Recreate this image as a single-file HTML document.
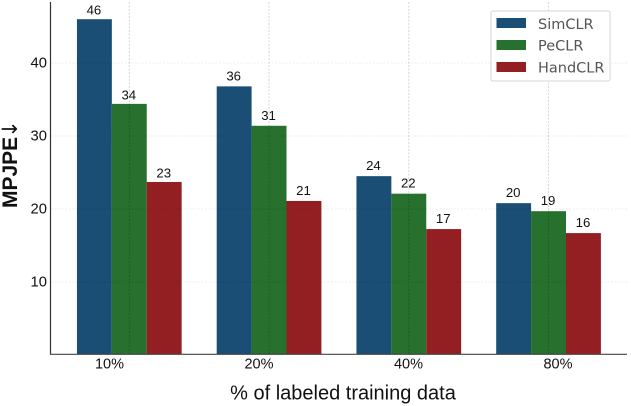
<!DOCTYPE html>
<html>
<head>
<meta charset="utf-8">
<style>
html,body{margin:0;padding:0;background:#fff;}
svg{display:block;filter:blur(0.25px);}
text{font-family:"Liberation Sans",Arial,sans-serif;fill:#111;}
</style>
</head>
<body>
<svg id="chart" width="631" height="406" viewBox="0 0 631 406" xmlns="http://www.w3.org/2000/svg">
  <text transform="translate(17,208) rotate(-90)" font-size="21" font-weight="bold" style="fill:#111">MPJPE<tspan dx="-1" dy="0" font-size="21" font-weight="normal" style="font-family:'DejaVu Sans',sans-serif">↓</tspan></text>
  <text x="343" y="399.3" text-anchor="middle" font-size="20">% of labeled training data</text>
  <g id="grid"></g>
  <g id="bars"></g>
  <g id="grid-over"></g>
  <g id="labels"></g>
  <g id="ticks"></g>
  <line x1="50.5" y1="2" x2="50.5" y2="354.5" stroke="#333" stroke-width="1.2"/>
  <line x1="50" y1="354.3" x2="627" y2="354.3" stroke="#444" stroke-width="1.2"/>
  <g>
    <rect x="491" y="11" width="119" height="70" rx="2" fill="#fff" fill-opacity="0.85" stroke="#ddd" stroke-width="1.2"/>
    <rect x="496.5" y="18" width="29.5" height="10" fill="#1a4e75"/>
    <text x="538" y="29" font-size="14.5" style="font-family:'DejaVu Sans',sans-serif;fill:#555">SimCLR</text>
    <rect x="496.5" y="40" width="29.5" height="10" fill="#27702e"/>
    <text x="538" y="50.5" font-size="14.5" style="font-family:'DejaVu Sans',sans-serif;fill:#555">PeCLR</text>
    <rect x="496.5" y="62" width="29.5" height="10" fill="#941f22"/>
    <text x="538" y="72.5" font-size="14.5" style="font-family:'DejaVu Sans',sans-serif;fill:#555">HandCLR</text>
  </g>
</svg>
<script>
const categories = ['10%', '20%', '40%', '80%'];
const simclr = [46.0, 36.8, 24.5, 20.8];
const peclr = [34.4, 31.4, 22.1, 19.7];
const handclr = [23.7, 21.1, 17.25, 16.7];
const simclrLabels = ['46', '36', '24', '20'];
const peclrLabels = ['34', '31', '22', '19'];
const handclrLabels = ['23', '21', '17', '16'];
const yTicks = [10, 20, 30, 40];

const NS = 'http://www.w3.org/2000/svg';
function yPos(v) { return 355 - v * 7.3; }
function xPos(i) { return 129.3 + i * 139.75; }
function xTickPos(i) { return 109.5 + i * 149.5; }
const barW = 34.9;
function mk(tag, attrs, parent) {
  const el = document.createElementNS(NS, tag);
  for (const k in attrs) el.setAttribute(k, attrs[k]);
  parent.appendChild(el);
  return el;
}
const gridOver = document.getElementById('grid-over');
const barsG = document.getElementById('bars');
const labelsG = document.getElementById('labels');
const ticksG = document.getElementById('ticks');

yTicks.forEach(function (t) {
  const line = mk('line', {x1: 51, x2: 627, y1: yPos(t), y2: yPos(t), stroke: '#000', 'stroke-opacity': 0.09, 'stroke-width': 0.8, 'stroke-dasharray': '2 1.5'}, gridOver);
  
  
  const label = mk('text', {x: 47, y: yPos(t) + 4.5, 'text-anchor': 'end', 'font-size': 14.8}, ticksG);
  label.textContent = t;
  
  
});

const series = [
  {name: 'simclr', vals: simclr, labels: simclrLabels, color: '#1a4e75', off: -1},
  {name: 'peclr', vals: peclr, labels: peclrLabels, color: '#27702e', off: 0},
  {name: 'handclr', vals: handclr, labels: handclrLabels, color: '#941f22', off: 1}
];

series.forEach(function (s) {
  s.vals.forEach(function (v, i) {
    const cx = xPos(i) + s.off * barW;
    const bar = mk('rect', {x: cx - barW / 2, y: yPos(v), width: barW, height: 354.5 - yPos(v), fill: s.color}, barsG);
    
    
    const label = mk('text', {x: cx - 0.5, y: yPos(v) - (i === 0 ? 4.5 : 6), 'text-anchor': 'middle', 'font-size': 13.2}, labelsG);
    label.textContent = s.labels[i];
    
    
  });
});

categories.forEach(function (c, i) {
  const line = mk('line', {x1: xPos(i), x2: xPos(i), y1: 2, y2: 354, stroke: '#000', 'stroke-opacity': 0.2, 'stroke-width': 0.8, 'stroke-dasharray': '2 1.5'}, gridOver);
  
  
  const label = mk('text', {x: xTickPos(i), y: 368.5, 'text-anchor': 'middle', 'font-size': 14.5}, ticksG);
  label.textContent = c;
  
  
});
</script>
</body>
</html>
